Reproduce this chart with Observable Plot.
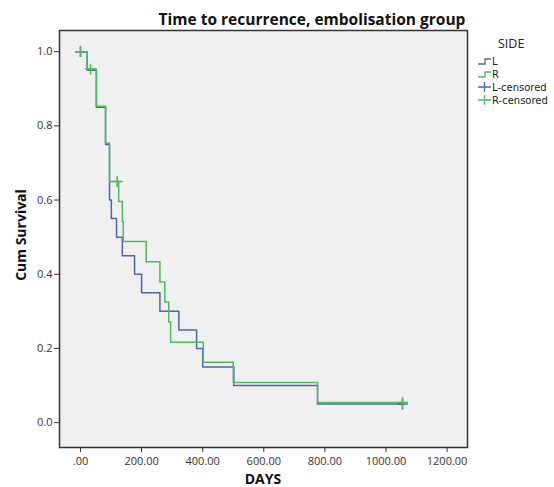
<!DOCTYPE html>
<html>
<head>
<meta charset="utf-8">
<script src="https://cdn.jsdelivr.net/npm/d3@7"></script>
<script src="https://cdn.jsdelivr.net/npm/@observablehq/plot@0.6"></script>
<style>
  html, body { margin: 0; padding: 0; background: #fff; }
  #wrap { position: relative; width: 554px; height: 487px; font-family: "Open Sans", "DejaVu Sans", sans-serif; }
  #title { position: absolute; left: 150px; width: 324px; top: 8px; text-align: center; font-weight: bold; font-size: 15.5px; color: #111; white-space: nowrap; }
  #ylab { position: absolute; left: 20px; top: 235px; transform: translate(-50%, -50%) rotate(-90deg); font-weight: bold; font-size: 14px; color: #111; white-space: nowrap; }
  #xlab { position: absolute; left: 263px; top: 478px; transform: translate(-50%, -50%); font-weight: bold; font-size: 14px; color: #111; }
  #legend { position: absolute; left: 476px; top: 34px; }
</style>
</head>
<body>
<div id="wrap">
  <div id="chart"></div>
  <div id="title">Time to recurrence, embolisation group</div>
  <div id="ylab">Cum Survival</div>
  <div id="xlab">DAYS</div>
  <svg id="legend" width="78" height="75"></svg>
</div>
<script>
// ---- data ----
const seriesNames = ["L", "R"];
const seriesColors = ["#5064b0", "#4cbb5c"];

// L (blue) Kaplan-Meier step points
const lDays = [0, 22, 52, 82, 95, 101, 118, 137, 177, 200, 260, 322, 380, 400, 502, 776, 1054];
const lSurv = [1.0, 0.95, 0.85, 0.75, 0.60, 0.55, 0.50, 0.45, 0.40, 0.35, 0.30, 0.25, 0.20, 0.15, 0.10, 0.05, 0.05];

// R (green) Kaplan-Meier step points
const rDays = [0, 22, 52, 82, 95, 125, 137, 140, 215, 260, 276, 289, 295, 402, 500, 776, 1054];
const rSurv = [1.0, 0.953, 0.853, 0.753, 0.65, 0.596, 0.542, 0.488, 0.434, 0.379, 0.325, 0.271, 0.217, 0.163, 0.108, 0.054, 0.054];

// censored observations
const lCensDays = [0, 1054];
const lCensSurv = [1.0, 0.05];
const rCensDays = [0, 33, 120, 1054];
const rCensSurv = [1.0, 0.953, 0.65, 0.054];

const xTicks = [0, 200, 400, 600, 800, 1000, 1200];
const yTicks = [0, 0.2, 0.4, 0.6, 0.8, 1.0];

// ---- build tables ----
const lineData = [
  ...lDays.map((d, i) => ({side: "L", day: d, surv: lSurv[i]})),
  ...rDays.map((d, i) => ({side: "R", day: d, surv: rSurv[i]}))
];
const censData = [
  ...lCensDays.map((d, i) => ({side: "L", day: d, surv: lCensSurv[i]})),
  ...rCensDays.map((d, i) => ({side: "R", day: d, surv: rCensSurv[i]}))
];

const chart = Plot.plot({
  width: 554,
  height: 487,
  marginLeft: 59,
  marginRight: 87,
  marginTop: 30,
  marginBottom: 40,
  style: {fontFamily: "'Open Sans', 'DejaVu Sans', sans-serif", fontSize: "11px", color: "#333", background: "#fff"},
  x: {domain: [-68.7, 1266.8], ticks: xTicks, tickFormat: d => d === 0 ? ".00" : d.toFixed(2), tickSize: 5, tickPadding: 5, label: null},
  y: {domain: [-0.067, 1.057], ticks: yTicks, tickFormat: d => d.toFixed(1), tickSize: 5, tickPadding: 2, label: null},
  color: {domain: seriesNames, range: seriesColors},
  marks: [
    Plot.frame({fill: "#f0f0f0", stroke: null}),
    Plot.line(lineData, {x: "day", y: "surv", z: "side", stroke: "side", curve: "step-after", strokeWidth: 1.5}),
    Plot.dot(censData, {x: "day", y: "surv", stroke: "side", symbol: "plus", r: 3.6, strokeWidth: 1.5}),
    Plot.frame({stroke: "#333", strokeWidth: 1.5})
  ]
});
document.getElementById("chart").appendChild(chart);

// ---- legend ----
const lg = d3.select("#legend");
lg.append("text").attr("x", 22).attr("y", 14).attr("font-size", 12.5).attr("fill", "#222")
  .attr("font-family", "'Open Sans', 'DejaVu Sans', sans-serif").text("SIDE");
const entries = [
  {label: "L", color: seriesColors[0], kind: "step", y: 27},
  {label: "R", color: seriesColors[1], kind: "step", y: 40},
  {label: "L-censored", color: seriesColors[0], kind: "cens", y: 53},
  {label: "R-censored", color: seriesColors[1], kind: "cens", y: 66}
];
entries.forEach(e => {
  if (e.kind === "step") {
    lg.append("path").attr("d", `M2,${e.y + 3}H9V${e.y - 2}H15`).attr("fill", "none")
      .attr("stroke", e.color).attr("stroke-width", 1.3);
  } else {
    lg.append("path").attr("d", `M2,${e.y}H15M8.5,${e.y - 5}V${e.y + 5}`).attr("fill", "none")
      .attr("stroke", e.color).attr("stroke-width", 1.3);
  }
  lg.append("text").attr("x", 16).attr("y", e.y + 3.5).attr("font-size", 10).attr("fill", "#222")
    .attr("font-family", "'DejaVu Sans', sans-serif").text(e.label);
});
</script>
</body>
</html>
